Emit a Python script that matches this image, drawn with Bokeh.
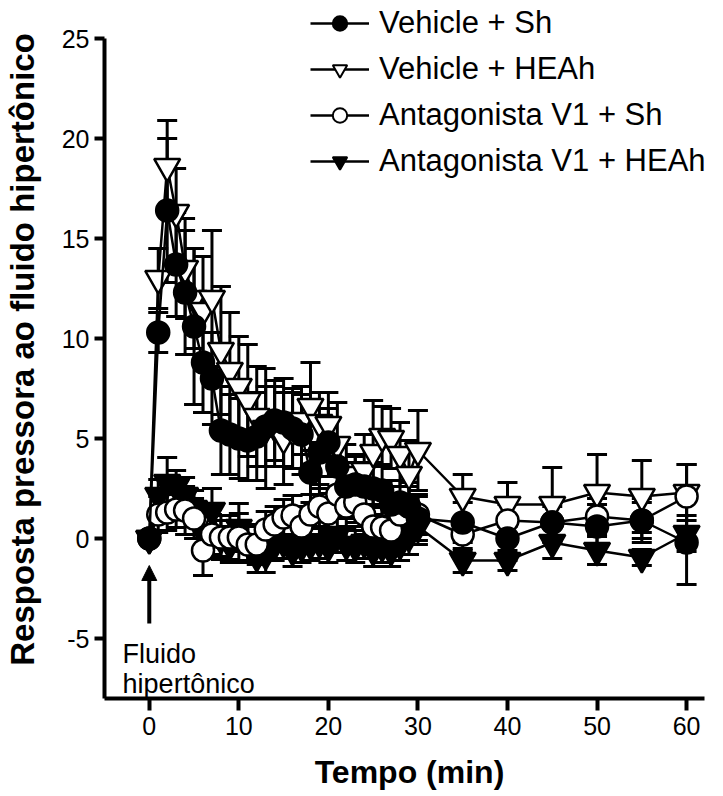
from bokeh.plotting import figure
from bokeh.models import (ColumnDataSource, Whisker, TeeHead, Legend, LegendItem,
                          Label, Arrow, NormalHead, FixedTicker)
from bokeh.embed import file_html
from bokeh.resources import INLINE

# ---------------- data ----------------
time = [0, 1, 2, 3, 4, 5, 6, 7, 8, 9, 10, 11, 12, 13, 14, 15, 16, 17, 18, 19, 20,
        21, 22, 23, 24, 25, 26, 27, 28, 29, 30, 35, 40, 45, 50, 55, 60]

veh_sh = [0, 10.3, 16.4, 13.7, 12.3, 10.6, 8.8, 8.0, 5.4, 5.2, 5.0, 4.9, 5.1, 5.6, 5.9,
          5.8, 5.5, 5.2, 3.3, 4.3, 4.8, 3.6, 2.6, 2.7, 2.6, 2.5, 2.4, 1.7, 1.8, 1.6, 1.0,
          0.8, 0.0, 0.8, 0.6, 0.9, -0.2]
veh_sh_sem = [0, 1.0, 3.6, 2.6, 3.1, 3.9, 2.5, 2.3, 2.2, 2.0, 2.0, 2.0, 2.2, 2.0, 2.0,
              2.2, 2.0, 2.0, 1.5, 1.8, 1.7, 1.3, 1.2, 1.4, 1.2, 1.3, 1.3, 1.2, 1.1, 1.2, 1.1,
              1.0, 1.1, 1.0, 1.1, 1.1, 2.1]

veh_heah = [0, 13.0, 18.6, 16.3, 13.5, 12.0, 11.4, 12.0, 9.4, 8.4, 7.6, 6.9, 6.1, 5.5, 5.6,
            5.0, 5.4, 5.9, 6.6, 5.8, 5.7, 4.7, 3.2, 2.6, 3.4, 4.3, 5.1, 5.0, 4.2, 3.2, 4.4,
            2.1, 1.7, 1.7, 2.3, 2.1, 2.3]
veh_heah_sem = [0, 1.5, 2.3, 2.2, 2.5, 2.5, 2.7, 3.4, 3.2, 2.9, 2.5, 2.8, 2.5, 3.0, 2.0,
                2.3, 1.9, 1.7, 2.2, 1.5, 1.6, 2.1, 1.5, 1.6, 1.8, 2.6, 1.5, 1.5, 1.6, 1.7, 2.0,
                1.1, 1.1, 1.85, 1.9, 1.8, 1.4]

v1_sh = [0, 1.2, 1.3, 1.45, 1.4, 1.0, -0.6, 0.2, 0.05, 0.05, 0.05, -0.3, -0.3, 0.45, 0.7,
         1.05, 1.15, 0.6, 1.2, 1.6, 1.25, 2.2, 1.6, 1.8, 1.2, 0.6, 0.55, 0.4, 1.2, 1.6, 1.2,
         0.2, 0.9, 0.8, 1.1, 0.9, 2.1]
v1_sh_sem = [0, 0.9, 0.9, 0.9, 1.2, 1.0, 1.25, 1.0, 1.1, 1.1, 1.2, 0.9, 1.0, 0.9, 0.9,
             0.9, 1.0, 1.0, 1.0, 1.1, 1.0, 1.2, 1.0, 1.0, 1.0, 1.1, 1.0, 1.0, 1.0, 1.0, 1.0,
             0.8, 0.8, 0.8, 0.9, 0.9, 1.6]

v1_heah = [0, 2.15, 2.8, 2.6, 2.15, 1.5, 0.3, 1.4, 0.0, -0.3, 0.55, -0.2, -0.9, -0.8, -0.3,
           -0.2, -0.6, -0.4, -0.3, -0.2, -0.4, 0.2, -0.3, -0.4, -0.2, -0.6, -0.4, -0.6, -0.3,
           0.1, 0.6, -1.1, -1.1, -0.2, -0.6, -0.95, 0.25]
v1_heah_sem = [0, 0.8, 1.25, 0.8, 0.9, 0.9, 0.9, 1.1, 0.9, 0.9, 1.2, 0.9, 0.8, 0.9, 0.8,
               0.8, 0.8, 0.8, 0.8, 0.8, 0.8, 0.9, 0.8, 0.8, 0.8, 0.8, 0.8, 0.8, 0.8, 0.9, 0.9,
               0.6, 0.5, 0.8, 0.7, 0.4, 0.9]

labels = ["Vehicle + Sh", "Vehicle + HEAh", "Antagonista V1 + Sh", "Antagonista V1 + HEAh"]
x_ticks = [0, 10, 20, 30, 40, 50, 60]
y_ticks = [-5, 0, 5, 10, 15, 20, 25]
x_axis_span = (-5, 62)
y_axis_span = (-8, 25)
x_title = "Tempo (min)"
y_title = "Resposta pressora ao fluido hipertônico"
note_lines = ["Fluido", "hipertônico"]
arrow_t = 0
arrow_from, arrow_to = -4.25, -1.35

FONT = "Liberation Sans"
NAN = float("nan")

# layout: 600 px for the 67-min axis span, 20 px per unit on y; frame extended to the
# top/right edges so that the legend is not clipped, axis lines limited with bounds.
PX_X = 600 / (x_axis_span[1] - x_axis_span[0])
PX_Y = 20.0
FW, FH = 610, 698
x_end = x_axis_span[0] + FW / PX_X
y_end = y_axis_span[0] + FH / PX_Y

p = figure(frame_width=FW, frame_height=FH, x_range=(x_axis_span[0], x_end),
           y_range=(y_axis_span[0], y_end),
           min_border_left=99, min_border_right=0, min_border_top=0, min_border_bottom=90,
           output_backend="svg", toolbar_location=None, background_fill_color="white",
           border_fill_color="white")
p.outline_line_color = None
p.grid.visible = False

for ax in (p.xaxis[0], p.yaxis[0]):
    ax.axis_line_width = 4
    ax.major_tick_line_width = 4
    ax.minor_tick_line_color = None
    ax.major_tick_in = 0
    ax.major_label_text_font = FONT
    ax.major_label_text_font_size = "25px"
    ax.major_label_text_color = "black"
    ax.axis_label_text_font = FONT
    ax.axis_label_text_font_style = "bold"
    ax.axis_label_text_color = "black"
    ax.axis_line_color = "black"
    ax.major_tick_line_color = "black"

p.xaxis.bounds = x_axis_span
p.yaxis.bounds = y_axis_span
p.xaxis.ticker = FixedTicker(ticks=x_ticks)
p.yaxis.ticker = FixedTicker(ticks=y_ticks)
p.yaxis.major_label_overrides = {t: str(t) for t in y_ticks}
p.xaxis.major_tick_out = 12
p.yaxis.major_tick_out = 10
p.xaxis.major_label_standoff = 6
p.yaxis.major_label_standoff = 5
p.xaxis.axis_label = x_title
p.yaxis.axis_label = y_title
p.xaxis.axis_label_text_font_size = "32px"
p.yaxis.axis_label_text_font_size = "33px"
p.xaxis.axis_label_standoff = 16
p.yaxis.axis_label_standoff = 18

series = [
    (veh_heah, veh_heah_sem, "inverted_triangle", "white", 26),
    (v1_heah, v1_heah_sem, "inverted_triangle", "black", 26),
    (v1_sh, v1_sh_sem, "circle", "white", 22),
    (veh_sh, veh_sh_sem, "circle", "black", 22),
]
names = [labels[1], labels[3], labels[2], labels[0]]

legend_r = {}
for (vals, sem, marker, fill, size), name in zip(series, names):
    src = ColumnDataSource(dict(t=time, v=vals,
                                up=[a + b for a, b in zip(vals, sem)],
                                lo=[a - b for a, b in zip(vals, sem)]))
    w = Whisker(base="t", upper="up", lower="lo", source=src, line_width=3, line_color="black",
                upper_head=TeeHead(size=20, line_width=3, line_color="black"),
                lower_head=TeeHead(size=20, line_width=3, line_color="black"))
    p.add_layout(w)
    p.line("t", "v", source=src, line_width=2.5, line_color="black")
    p.scatter("t", "v", source=src, marker=marker, size=size, fill_color=fill,
              line_color="black", line_width=2.5)
    # smaller glyphs used only for the legend keys
    lr = p.line([NAN], [NAN], line_width=2.5, line_color="black")
    sr = p.scatter([NAN], [NAN], marker=marker, size=size * 0.8, fill_color=fill,
                   line_color="black", line_width=2)
    legend_r[name] = [lr, sr]

items = [LegendItem(label=lab, renderers=legend_r[lab]) for lab in labels]
legend = Legend(items=items, location=(206, 519), glyph_width=59, glyph_height=36,
                label_height=36, spacing=10, label_standoff=10, padding=0, margin=0,
                border_line_color=None, background_fill_alpha=0,
                label_text_font=FONT, label_text_font_size="31px", label_text_color="black")
p.add_layout(legend)

p.add_layout(Arrow(x_start=arrow_t, y_start=arrow_from, x_end=arrow_t, y_end=arrow_to,
                   line_width=4, line_color="black",
                   end=NormalHead(size=15, fill_color="black", line_color="black", line_width=1)))

note_y = [-5.75, -7.25]
for txt, yy in zip(note_lines, note_y):
    p.add_layout(Label(x=-2.98, y=yy, text=txt, text_font=FONT, text_font_size="27px",
                       text_baseline="alphabetic", text_align="left", text_color="black"))

open("out.html", "w").write(file_html(p, INLINE))
